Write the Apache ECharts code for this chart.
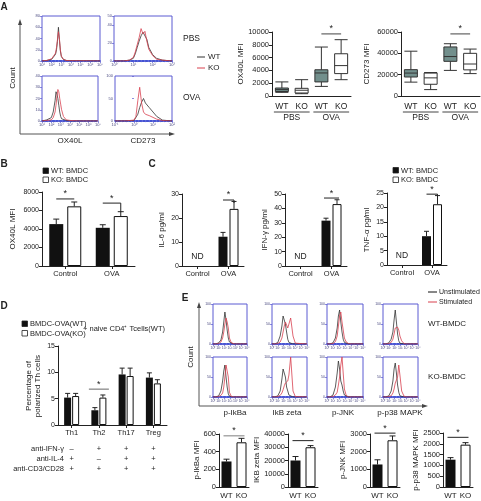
<!DOCTYPE html>
<html><head><meta charset="utf-8">
<script src="https://cdn.jsdelivr.net/npm/echarts@6/dist/echarts.min.js"></script>
<style>html,body{margin:0;padding:0;background:#fff}#c{width:481px;height:501px}</style>
</head><body><div id="c"></div>
<script>
// ================= DATA =================
// Panel A – flow histograms (x = log10 fluorescence, y = count)
const aOxPbsX  = [1,1.5,2,2.2,2.4,2.5,2.6,2.7,2.8,2.9,3.0,3.2,3.5,4,5,6,7];
const aOxPbsWT = [0,1,3,6,12,20,35,60,38,18,8,3,1,0.5,0.5,0.3,0];
const aOxPbsKO = [0,1,4,7,14,24,38,52,40,20,9,3,1,0.5,0.5,0.3,0];
const aCdPbsX  = [0,0.5,0.8,1.0,1.1,1.2,1.3,1.4,1.5,1.6,1.7,1.8,2.0,2.2,2.5,3];
const aCdPbsWT = [0,0,1,3,8,15,22,28,32,30,24,15,7,3,1,0];
const aCdPbsKO = [0,0,1,4,10,18,26,36,30,33,22,13,6,2,1,0];
const aOxOvaX  = [1,1.5,2,2.2,2.4,2.5,2.6,2.7,2.8,2.9,3.0,3.1,3.3,3.6,4,5,7];
const aOxOvaWT = [0,1,3,8,18,26,24,20,14,8,4,2,1,0.5,0,0,0];
const aOxOvaKO = [0,0.5,1,3,8,14,22,28,26,20,15,10,4,1,0.5,0,0];
const aCdOvaX  = [-1,-0.5,0,0.1,0.2,0.3,0.4,0.5,0.6,0.8,1.0,1.2,1.5,2];
const aCdOvaWT = [0,0,1,4,15,30,42,50,40,30,20,10,2,0];
const aCdOvaKO = [0,0,2,10,45,75,40,20,15,12,8,4,1,0];

// Panel A – box plots [min, Q1, median, Q3, max]
const boxCats = ['WT','KO','WT','KO'];
const boxGroups = ['PBS','OVA'];
const ox40lBox = [[570,700,1000,1250,2200],[360,470,900,1200,2550],[1500,2200,3600,4100,7650],[2550,3500,4750,6600,8800]];
const cd273Box = [[13000,17800,21500,24700,42000],[6000,11000,17000,21500,22000],[24000,32500,37000,46000,49000],[21000,24500,30000,40000,44000]];

// Panel B
const bCats = ['Control','OVA'];
const bWT = [4530,4130], bWTerr = [540,330];
const bKO = [6450,5400], bKOerr = [470,470];

// Panel C
const cCats = ['Control','OVA'];
const il6WT = [null,12.2], il6WTerr = [null,1.8], il6KO = [null,23.8], il6KOerr = [null,3.1];
const ifnWT = [null,31.5], ifnWTerr = [null,1.7], ifnKO = [null,43.0], ifnKOerr = [null,3.0];
const tnfWT = [null,10.0], tnfWTerr = [null,1.7], tnfKO = [null,21.1], tnfKOerr = [null,3.0];

// Panel D
const dCats = ['Th1','Th2','Th17','Treg'];
const dWT = [5.2,2.8,9.6,9.0], dWTerr = [0.8,0.5,1.2,0.9];
const dKO = [5.5,5.2,9.3,7.9], dKOerr = [0.5,0.5,1.5,0.7];
const dRowLabels = ['anti-IFN-γ','anti-IL-4','anti-CD3/CD28'];
const dSigns = [['–','+','+','+'],['+','–','+','+'],['+','+','+','+']];

// Panel E – histograms (Unstimulated / Stimulated)
const eX = [0,0.5,1,1.4,1.7,1.9,2.1,2.3,2.5,2.7,2.9,3.2,3.6,4,6];
const eIkbaWtU = [0,0,3,10,30,55,80,60,35,15,5,1,0,0,0];
const eIkbaWtS = [0,0,1,5,15,30,50,65,55,40,15,4,1,0,0];
const eZetaWtU = [0,0,4,20,45,70,75,50,30,12,4,1,0,0,0];
const eZetaWtS = [0,0,1,5,15,30,45,55,50,40,45,65,20,2,0];
const eJnkWtU  = [0,0,3,15,40,70,85,55,30,12,4,1,0,0,0];
const eJnkWtS  = [0,0,1,6,20,45,70,80,55,35,15,5,1,0,0];
const eP38WtU  = [0,0,3,12,30,60,85,55,25,8,2,0,0,0,0];
const eP38WtS  = [0,0,1,4,12,25,40,45,42,35,20,8,1,0,0];
const eIkbaKoU = [0,0,3,15,40,65,80,50,25,8,2,0,0,0,0];
const eIkbaKoS = [0,0,1,4,10,25,50,80,85,50,12,2,0,0,0];
const eZetaKoU = [0,0,3,15,45,70,75,50,25,15,5,1,0,0,0];
const eZetaKoS = [0,0,1,4,10,18,28,35,30,40,55,100,15,1,0];
const eJnkKoU  = [0,0,5,25,60,90,70,40,30,15,5,1,0,0,0];
const eJnkKoS  = [0,0,1,5,12,30,50,80,100,60,20,4,0,0,0];
const eP38KoU  = [0,0,3,15,40,70,85,60,30,12,3,0,0,0,0];
const eP38KoS  = [0,0,1,3,10,20,35,40,50,80,55,15,2,0,0];
const eColLabels = ['p-IkBa','IkB zeta','p-JNK','p-p38 MAPK'];

// Panel E – MFI bars
const eCats = ['WT','KO'];
const eIkbaMfi = [289,506], eIkbaErr = [26,45];
const eZetaMfi = [20000,30000], eZetaErr = [3000,1250];
const eJnkMfi = [1275,2644], eJnkErr = [265,246];
const eP38Mfi = [1265,1960], eP38Err = [95,93];

// ================= BUILD =================
const FONT = '"Liberation Sans", Arial, Helvetica, sans-serif';
const BLUE = '#5a5ad2';
const RED = '#d8404f';
const INK = '#222';
const grids = [], xAxes = [], yAxes = [], series = [];
function addGrid(rect, xa, ya) {
  const i = grids.length;
  grids.push(Object.assign({}, rect));
  xAxes.push(Object.assign({gridIndex: i}, xa));
  yAxes.push(Object.assign({gridIndex: i}, ya));
  return i;
}
const SUP = {'-':'⁻','0':'⁰','1':'¹','2':'²','3':'³','4':'⁴','5':'⁵','6':'⁶','7':'⁷','8':'⁸','9':'⁹'};
function logLabel(v){ return '10' + String(v).split('').map(c => SUP[c] || c).join(''); }
const plain = v => String(v);

function addHist(rect, xmin, xmax, ymax, yint, xs, black, red, ls) {
  const gi = addGrid(Object.assign({show:true, borderColor:BLUE, borderWidth:1, backgroundColor:'transparent'}, rect),
    {type:'value', min:xmin, max:xmax, interval:1,
     axisLine:{show:true, onZero:false, lineStyle:{color:'#2236cc', width:1.6, type:[2,1.5]}},
     axisTick:{show:true, length:2, lineStyle:{color:BLUE, width:0.7}},
     minorTick:{show:true, splitNumber:5, length:1.2, lineStyle:{color:BLUE, width:0.5}},
     axisLabel:{fontSize:ls, color:'#4a4a80', margin:2, formatter:logLabel, fontFamily:FONT},
     splitLine:{show:false}},
    {type:'value', min:0, max:ymax, interval:yint,
     axisLine:{show:false}, axisTick:{show:true, length:2, lineStyle:{color:BLUE, width:0.7}},
     axisLabel:{fontSize:ls, color:'#4a4a80', margin:2, fontFamily:FONT, formatter:plain},
     splitLine:{show:false}});
  const mk = (ys, color) => ({type:'line', xAxisIndex:gi, yAxisIndex:gi, data: xs.map((x,k)=>[x, ys[k]]),
     symbol:'none', silent:true, animation:false, lineStyle:{color, width:0.8}});
  series.push(mk(black, '#333'), mk(red, RED));
  return gi;
}

function errSeries(gi, vals, errs, off, cap) {
  const data = [];
  vals.forEach((v,i) => { if (v != null) data.push([i, v, errs[i]]); });
  return {type:'custom', xAxisIndex:gi, yAxisIndex:gi, data, silent:true, animation:false, z:1,
    renderItem: (params, api) => {
      const a = api.coord([api.value(0), api.value(1)]);
      const b = api.coord([api.value(0), api.value(1) + api.value(2)]);
      const x = a[0] + off;
      return {type:'group', children:[
        {type:'line', shape:{x1:x, y1:a[1], x2:x, y2:b[1]}, style:{stroke:INK, lineWidth:1}},
        {type:'line', shape:{x1:x-cap, y1:b[1], x2:x+cap, y2:b[1]}, style:{stroke:INK, lineWidth:1}}]};
    }};
}
function catAxis(cats, size, ticks) {
  return {type:'category', data:cats, axisLine:{lineStyle:{color:INK, width:1}},
    axisTick:{show:ticks, alignWithLabel:true, length:3, lineStyle:{color:INK}},
    axisLabel:{fontSize:size, color:INK, margin:4, fontFamily:FONT, interval:0, hideOverlap:false}};
}
function valAxis(ymax, yint, size) {
  return {type:'value', min:0, max:ymax, interval:yint,
    axisLine:{show:true, lineStyle:{color:INK, width:1}},
    axisTick:{show:true, length:3, lineStyle:{color:INK}},
    axisLabel:{fontSize:size, color:INK, margin:3, fontFamily:FONT, formatter:plain},
    splitLine:{show:false}};
}
function addBars(rect, cats, ymax, yint, wt, wtE, ko, koE, barW, gap, catSize, tickSize, cap) {
  const gi = addGrid(rect, catAxis(cats, catSize, true), valAxis(ymax, yint, tickSize));
  const off = (barW + gap) / 2;
  const bg = (gap / barW * 100) + '%';
  series.push({type:'bar', xAxisIndex:gi, yAxisIndex:gi, data:wt, barWidth:barW, barGap:bg, silent:true, animation:false, itemStyle:{color:'#111'}});
  series.push({type:'bar', xAxisIndex:gi, yAxisIndex:gi, data:ko, barWidth:barW, barGap:bg, silent:true, animation:false, itemStyle:{color:'#fff', borderColor:'#111', borderWidth:1}});
  series.push(errSeries(gi, wt, wtE, -off, cap), errSeries(gi, ko, koE, off, cap));
  return gi;
}
function addPair(rect, vals, errs, ymax, yint) {
  const gi = addGrid(rect, catAxis(eCats, 8, false), valAxis(ymax, yint, 7.5));
  xAxes[gi].axisLabel.margin = 5;
  series.push({type:'bar', xAxisIndex:gi, yAxisIndex:gi, barWidth:10, silent:true, animation:false,
    data: vals.map((v,i) => ({value:v, itemStyle: i === 0 ? {color:'#111'} : {color:'#fff', borderColor:'#111', borderWidth:1}}))});
  series.push(errSeries(gi, vals, errs, 0, 3));
  return gi;
}
function addBox(rect, data, ymax, yint) {
  const gi = addGrid(rect, catAxis(boxCats, 8.5, false), valAxis(ymax, yint, 7.5));
  xAxes[gi].axisLabel.margin = 6;
  series.push({type:'boxplot', xAxisIndex:gi, yAxisIndex:gi, boxWidth:[13,13], silent:true, animation:false,
    data: data.map((d,i) => ({value:d, itemStyle:{color: i % 2 === 0 ? '#728f8c' : '#fff', borderColor:'#333', borderWidth:1}}))});
  return gi;
}

// Panel A
const gA1 = addHist({left:42, top:16, width:58, height:45}, 1, 7, 80, 20, aOxPbsX, aOxPbsWT, aOxPbsKO, 4);
const gA2 = addHist({left:114, top:16, width:58, height:45}, 0, 3, 50, 20, aCdPbsX, aCdPbsWT, aCdPbsKO, 4);
const gA3 = addHist({left:42, top:76, width:56, height:45}, 1, 7, 40, 10, aOxOvaX, aOxOvaWT, aOxOvaKO, 4);
const gA4 = addHist({left:115, top:76, width:57, height:45}, -1, 2, 100, 50, aCdOvaX, aCdOvaWT, aCdOvaKO, 4);
const gBox1 = addBox({left:272, top:32, width:79, height:64}, ox40lBox, 10000, 2000);
const gBox2 = addBox({left:401, top:32, width:79, height:64}, cd273Box, 60000, 20000);
// Panel B
const gB = addBars({left:42, top:192, width:93, height:74}, bCats, 8000, 2000, bWT, bWTerr, bKO, bKOerr, 14, 4, 7.5, 7, 3);
// Panel C
const gC1 = addBars({left:182, top:194, width:62, height:72}, cCats, 30, 10, il6WT, il6WTerr, il6KO, il6KOerr, 9, 2, 7.5, 7, 2.5);
const gC2 = addBars({left:285, top:194, width:62, height:72}, cCats, 50, 10, ifnWT, ifnWTerr, ifnKO, ifnKOerr, 9, 2, 7.5, 7, 2.5);
const gC3 = addBars({left:387, top:193, width:60, height:72}, cCats, 25, 5, tnfWT, tnfWTerr, tnfKO, tnfKOerr, 9, 2, 7.5, 7, 2.5);
// Panel D
const gD = addBars({left:58, top:346, width:109, height:79}, dCats, 15, 5, dWT, dWTerr, dKO, dKOerr, 7, 1, 7.5, 7, 2.5);
// Panel E histograms
const eLefts = [213, 272, 327, 383], eWidths = [34, 35, 36, 35], eTops = [304, 357];
const eCurves = [[eIkbaWtU,eIkbaWtS],[eZetaWtU,eZetaWtS],[eJnkWtU,eJnkWtS],[eP38WtU,eP38WtS],
                 [eIkbaKoU,eIkbaKoS],[eZetaKoU,eZetaKoS],[eJnkKoU,eJnkKoS],[eP38KoU,eP38KoS]];
eCurves.forEach((c, k) => {
  const col = k % 4, row = Math.floor(k / 4);
  addHist({left:eLefts[col], top:eTops[row], width:eWidths[col], height:40}, 0, 6, 100, 50, eX, c[0], c[1], 3.5);
});
// Panel E bars
const gE1 = addPair({left:219, top:434, width:30, height:53}, eIkbaMfi, eIkbaErr, 600, 200);
const gE2 = addPair({left:288, top:434, width:30, height:53}, eZetaMfi, eZetaErr, 40000, 10000);
const gE3 = addPair({left:370, top:434, width:30, height:53}, eJnkMfi, eJnkErr, 3000, 1000);
const gE4 = addPair({left:443, top:433, width:30, height:54}, eP38Mfi, eP38Err, 2500, 500);

const chart = echarts.init(document.getElementById('c'), null, {renderer:'canvas'});
chart.setOption({animation:false, backgroundColor:'#fff', textStyle:{fontFamily:FONT},
  grid:grids, xAxis:xAxes, yAxis:yAxes, series:series});

// ================= ANNOTATIONS =================
const G = [];
function P(gi, x, y){ return chart.convertToPixel({gridIndex:gi}, [x, y]); }
function txt(x, y, s, size, align, rot, weight, fill) {
  G.push({type:'text', x, y, rotation:rot || 0, silent:true,
    style:{text:s, fontSize:size || 8, fontFamily:FONT, fontWeight:weight || 'normal', fill:fill || INK,
      align:align || 'center', verticalAlign:'middle'}});
}
function ln(x1, y1, x2, y2, color, w) {
  G.push({type:'line', silent:true, shape:{x1, y1, x2, y2}, style:{stroke:color || INK, lineWidth:w || 1}});
}
function sq(x, y, s, fill) {
  G.push({type:'rect', silent:true, shape:{x, y, width:s, height:s}, style:{fill, stroke:INK, lineWidth:0.8}});
}
function tri(pts) { G.push({type:'polygon', silent:true, shape:{points:pts}, style:{fill:'#444'}}); }
const V = Math.PI / 2;

function sig(gi, xa, xb, val, drop, color, w) {
  const y = P(gi, 0, val)[1];
  ln(xa, y, xb, y, color, w);
  if (drop) ln(xb, y, xb, y + drop, color, w);
  txt((xa + xb) / 2, y - 5, '*', 9);
}
function grp(gi, cat, val, off, ext, drop, color, w) {
  const c = P(gi, cat, 0)[0];
  sig(gi, c - off - ext, c + off + ext, val, drop, color, w);
}

// Panel letters
txt(4, 7, 'A', 10, 'center', 0, 'bold');
txt(4, 164, 'B', 10, 'center', 0, 'bold');
txt(152, 164, 'C', 10, 'center', 0, 'bold');
txt(4, 306, 'D', 10, 'center', 0, 'bold');
txt(185, 298, 'E', 10, 'center', 0, 'bold');

// Panel A frame
ln(20, 134, 20, 24, '#555', 1); tri([[20,19],[18,25],[22,25]]);
ln(20, 134, 170, 134, '#555', 1); tri([[175,134],[169,132],[169,136]]);
txt(13, 78, 'Count', 8, 'center', V);
txt(70, 141, 'OX40L', 8);
txt(143, 141, 'CD273', 8);
txt(183, 39, 'PBS', 8.5, 'left');
txt(183, 98, 'OVA', 8.5, 'left');
ln(197, 57, 205, 57, '#333', 1); txt(208, 57, 'WT', 8, 'left');
ln(197, 68, 205, 68, RED, 1); txt(208, 68, 'KO', 8, 'left');

// Box plots
[[gBox1, 9700, 'OX40L MFI', 241], [gBox2, 58200, 'CD273 MFI', 367]].forEach(([gi, sv, name, nx]) => {
  const xs = [0,1,2,3].map(k => P(gi, k, 0)[0]);
  const yb = P(gi, 0, 0)[1];
  ln(xs[0] - 8, yb + 16, xs[1] + 8, yb + 16, '#444', 1);
  ln(xs[2] - 8, yb + 16, xs[3] + 8, yb + 16, '#444', 1);
  txt((xs[0] + xs[1]) / 2, yb + 22, boxGroups[0], 8.5);
  txt((xs[2] + xs[3]) / 2, yb + 22, boxGroups[1], 8.5);
  sig(gi, xs[2], xs[3], sv, 0, '#444', 1);
  txt(nx, 64, name, 8, 'center', V);
});

// Panel B
sq(43, 168, 5.5, '#111'); txt(51, 171, 'WT: BMDC', 7.5, 'left');
sq(43, 177, 5.5, '#fff'); txt(51, 180, 'KO: BMDC', 7.5, 'left');
txt(13, 229, 'OX40L MFI', 8, 'center', V);
grp(gB, 0, 7250, 9, 0, 0);
grp(gB, 1, 6800, 9, 0, 9);

// Panel C
sq(393, 167.5, 5.5, '#111'); txt(401, 170.5, 'WT: BMDC', 7.5, 'left');
sq(393, 177, 5.5, '#fff'); txt(401, 180, 'KO: BMDC', 7.5, 'left');
[[gC1, 27.5, 3, 'IL-6 pg/ml', 162], [gC2, 47.2, 0, 'IFN-γ pg/ml', 265], [gC3, 24.6, 3, 'TNF-α pg/ml', 367]].forEach(([gi, sv, dr, name, nx]) => {
  grp(gi, 1, sv, 5.5, dr ? 0 : 2, dr);
  const p = P(gi, 0, 0);
  txt(p[0], p[1] - 9, 'ND', 8.5);
  txt(nx, 230, name, 8, 'center', V);
});

// Panel D
sq(22, 321, 5.5, '#111'); txt(30, 324, 'BMDC-OVA(WT)', 7.5, 'left');
sq(22, 330.5, 5.5, '#fff'); txt(30, 334, 'BMDC-OVA(KO)', 7.5, 'left');
txt(83, 329, '+ naive CD4⁺ Tcells(WT)', 7.5, 'left');
txt(29, 386, 'Percentage of', 8, 'center', V);
txt(38, 386, 'polarized Th cells', 8, 'center', V);
grp(gD, 1, 6.8, 4, 6, 0, '#999', 1.5);
const dRowY = [449, 459, 469];
dRowLabels.forEach((lab, r) => {
  txt(64, dRowY[r], lab, 7.5, 'right');
  dCats.forEach((c, k) => txt(P(gD, k, 0)[0], dRowY[r], dSigns[r][k], 7.5));
});

// Panel E frame
ln(199, 406, 199, 307, '#555', 1); tri([[199,302],[197,308],[201,308]]);
ln(199, 406, 423, 406, '#555', 1); tri([[428,406],[422,404],[422,408]]);
txt(191, 357, 'Count', 8, 'center', V);
txt(447, 324, 'WT-BMDC', 8, 'center');
txt(447, 377, 'KO-BMDC', 8, 'center');
const eLabX = [235, 287, 343, 400];
eColLabels.forEach((s, k) => txt(eLabX[k], 413, s, 8));
ln(428, 292, 437, 292, '#111', 1); txt(439, 292, 'Unstimulated', 7, 'left');
ln(428, 302, 437, 302, RED, 1); txt(439, 302, 'Stimulated', 7, 'left');
[[gE1, 580, '#aaa', 1.5, 'p-IkBa MFI', 197], [gE2, 35000, INK, 1, 'IKB zeta MFI', 257],
 [gE3, 3050, INK, 1, 'p-JNK MFI', 343], [gE4, 2300, INK, 1, 'p-p38 MAPK MFI', 416]].forEach(([gi, sv, col, w, name, nx]) => {
  const a = P(gi, 0, 0)[0], b = P(gi, 1, 0)[0];
  sig(gi, a - 3, b + 3, sv, 0, col, w);
  txt(nx, 460, name, 8, 'center', V);
});

chart.setOption({graphic:{elements:G}});
</script>
</body></html>
